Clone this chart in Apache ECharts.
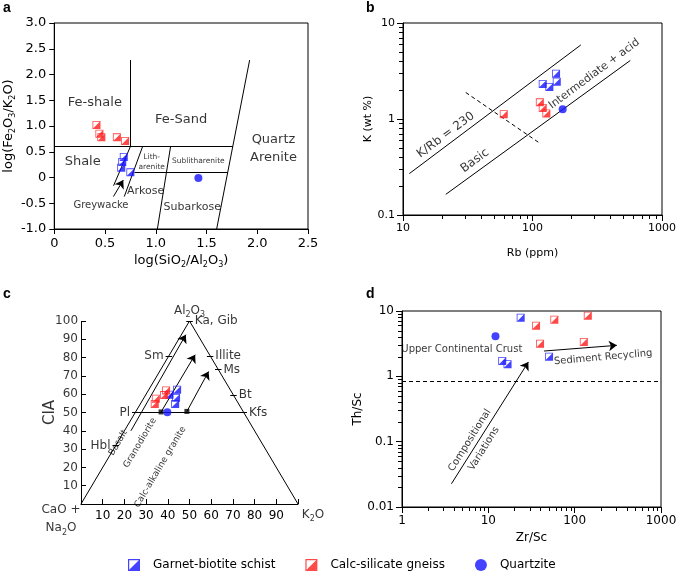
<!DOCTYPE html>
<html><head><meta charset="utf-8">
<script src="https://cdn.jsdelivr.net/npm/echarts@6/dist/echarts.min.js"></script>
<style>html,body{margin:0;padding:0;background:#fff}#c{width:685px;height:571px}</style>
</head><body><div id="c"></div>
<script>
// ================= DATA =================
const groups = ['Garnet-biotite schist', 'Calc-silicate gneiss', 'Quartzite'];

// Panel a : log(Fe2O3/K2O) vs log(SiO2/Al2O3)
const aXTicks = [0, 0.5, 1, 1.5, 2, 2.5];
const aYTicks = [-1, -0.5, 0, 0.5, 1, 1.5, 2, 2.5, 3];
const aGarnet = [[0.685, 0.40], [0.67, 0.30], [0.66, 0.19], [0.75, 0.10]];
const aCalc = [[0.416, 1.02], [0.445, 0.85], [0.464, 0.78], [0.617, 0.78], [0.698, 0.71]];
const aQuartzite = [[1.42, -0.01]];
const aBoundaries = [
  [[0.75, 0.6], [0.75, 2.28]],
  [[0, 0.6], [1.76, 0.6]],
  [[1.6, -1], [1.925, 2.28]],
  [[0.79, 0.1], [1.71, 0.1]],
  [[1.016, -1], [1.146, 0.6]],
  [[0.69, -0.37], [0.87, 0.6]],
  [[0.584, -0.16], [0.75, 0.6]]
];
const aArrow = [[0.583, -0.37], [0.68, -0.05]];

// Panel b : K (wt%) vs Rb (ppm)
const bXTicks = [10, 100, 1000];
const bYTicks = [0.1, 1, 10];
const bGarnet = [[152, 2.96], [154, 2.44], [120, 2.32], [135, 2.16]];
const bCalc = [[60, 1.12], [114, 1.49], [120, 1.30], [128, 1.14]];
const bQuartzite = [[171, 1.26]];
const bKRb230 = [[11.2, 0.27], [236, 5.9]];
const bLower = [[21.4, 0.164], [569, 4.07]];
const bDivider = [[30.5, 1.89], [116, 0.55]];

// Panel c : A-CN-K ternary (x = K + A/2, y = CIA)
const cTicks = [0, 10, 20, 30, 40, 50, 60, 70, 80, 90, 100];
const cGarnet = [[44.3, 62.4], [40.8, 59.7], [43.8, 58.0], [43.4, 54.7]];
const cCalc = [[39.2, 62.0], [38.3, 59.5], [34.5, 57.5], [34.0, 54.7]];
const cQuartzite = [[39.8, 50.2]];
const cRocks = [[36.9, 50.3], [48.8, 50.6]];
const cTriangle = [[0, 0], [50, 100], [100, 0]];
const cCIA50 = [[25, 50], [75, 50]];
const cTrends = [
  [[23, 40], [48.3, 92.5]],
  [[36.9, 50.3], [52.6, 81.6]],
  [[48.8, 50.6], [58.8, 72.4]]
];
const cMinerals = [
  ['Ka, Gib', 'r', 100], ['Sm', 'l', 81], ['Illite', 'r', 81], ['Ms', 'r', 73.5],
  ['Bt', 'r', 59.5], ['Kfs', 'r', 50], ['Pl', 'l', 50], ['Hbl', 'l', 32]
];

// Panel d : Th/Sc vs Zr/Sc
const dXTicks = [1, 10, 100, 1000];
const dYTicks = [0.01, 0.1, 1, 10];
const dGarnet = [[23.7, 7.9], [14.5, 1.72], [16.7, 1.53], [50.5, 2.0]];
const dCalc = [[35.7, 5.97], [58.2, 7.36], [142, 8.49], [39.7, 3.16], [127.7, 3.36]];
const dQuartzite = [[12.1, 4.09]];
const dThreshold = [[1, 0.85], [1000, 0.85]];
const dComposition = [[3.74, 0.0227], [29.1, 1.66]];
const dRecycling = [[44.2, 2.44], [308, 2.98]];

// ================= BUILD =================
const F = 'DejaVu Sans';
const BLUE = '#1414ff', RED = '#ff1a1a';
const SQ = 'path://M0 0L10 0L10 10L0 10Z M1 1L1 9L9 9L9 1Z M9 1L9 9L1 9Z';
const RICH = { s: { fontSize: 8, verticalAlign: 'bottom', fontFamily: F, color: '#000' } };

function minorVals(ticks) {
  const out = [];
  for (let i = 0; i < ticks.length - 1; i++) for (let k = 2; k <= 9; k++) out.push(+(ticks[i] * k).toPrecision(6));
  return out;
}
function fmtLog(v) { return String(+(+v).toPrecision(6)); }

const axisBase = {
  axisLine: { show: true, onZero: false, lineStyle: { color: '#000', width: 1 } },
  axisTick: { show: true, length: 5, lineStyle: { color: '#000', width: 1 } },
  splitLine: { show: false },
  nameTextStyle: { color: '#000', fontFamily: F, rich: RICH }
};
function ax(o) { return Object.assign({}, axisBase, o, { axisLabel: Object.assign({ color: '#000', fontFamily: F }, o.axisLabel || {}) }); }

function pts(xi, yi, g, c, q) {
  return [
    { type: 'scatter', name: groups[0], xAxisIndex: xi, yAxisIndex: yi, data: g, symbol: SQ, symbolSize: 8, itemStyle: { color: BLUE }, z: 6 },
    { type: 'scatter', name: groups[1], xAxisIndex: xi, yAxisIndex: yi, data: c, symbol: SQ, symbolSize: 8, itemStyle: { color: RED }, z: 6 },
    { type: 'scatter', name: groups[2], xAxisIndex: xi, yAxisIndex: yi, data: q, symbol: 'circle', symbolSize: 8, itemStyle: { color: BLUE }, z: 6 }
  ];
}
function segs(xi, yi, list, extra) {
  return Object.assign({
    type: 'lines', coordinateSystem: 'cartesian2d', xAxisIndex: xi, yAxisIndex: yi, silent: true,
    symbol: 'none', lineStyle: { color: '#000', width: 1, opacity: 1, curveness: 0 },
    data: list.map(c => ({ coords: c })), z: 3
  }, extra || {});
}
function arrows(xi, yi, list, extra) {
  return segs(xi, yi, list, Object.assign({ symbol: ['none', 'arrow'], symbolSize: 8 }, extra || {}));
}
function texts(xi, yi, items) {
  return {
    type: 'scatter', xAxisIndex: xi, yAxisIndex: yi, silent: true, symbolSize: 1, z: 7, clip: false,
    itemStyle: { color: 'rgba(0,0,0,0)' },
    label: { show: true, color: '#000', fontFamily: F, rich: RICH },
    data: items.map(t => ({
      value: [t.x, t.y],
      label: {
        show: true, formatter: t.t, rotate: t.r || 0, position: t.p || 'inside', distance: t.d || 0,
        offset: t.o || [0, 0], fontSize: t.s || 12, lineHeight: t.lh || Math.round((t.s || 12) * 1.35),
        align: t.a || 'center', verticalAlign: 'middle',
        color: '#000', fontFamily: F, rich: RICH
      }
    }))
  };
}

// annotations (data coordinates)
const aText = [
  { t: 'Fe-shale', x: 0.40, y: 1.45, s: 13 },
  { t: 'Fe-Sand', x: 1.25, y: 1.12, s: 13 },
  { t: 'Quartz\nArenite', x: 2.16, y: 0.57, s: 13, lh: 18 },
  { t: 'Shale', x: 0.28, y: 0.30, s: 13 },
  { t: 'Lith-\narenite', x: 0.96, y: 0.30, s: 7.5, lh: 10 },
  { t: 'Sublitharenite', x: 1.42, y: 0.32, s: 7.5 },
  { t: 'Arkose', x: 0.90, y: -0.26, s: 11 },
  { t: 'Subarkose', x: 1.36, y: -0.57, s: 11 },
  { t: 'Greywacke', x: 0.46, y: -0.55, s: 10 }
];
const bText = [
  { t: 'K/Rb = 230', x: 21.4, y: 0.68, s: 12, r: 36.6 },
  { t: 'Basic', x: 35.9, y: 0.368, s: 12, r: 36.6 },
  { t: 'Intermediate + acid', x: 300, y: 2.95, s: 11, r: 36.6 }
];
const DIGIT_W = 7.63; // DejaVu Sans digit advance at 12px
const cText = [
  { t: 'Al{s|2}O{s|3}', x: 50, y: 100, o: [0, -10], s: 12 },
  { t: 'CaO +\nNa{s|2}O', x: 0, y: 0, o: [-20, 15], s: 12, lh: 18 },
  { t: 'K{s|2}O', x: 100, y: 0, o: [15, 11], s: 12 },
  { t: 'CIA', x: 0, y: 50, o: [0, -31], s: 15, r: 90 },
  { t: 'Basalt', x: 17.1, y: 33.4, s: 9, r: 59.3 },
  { t: 'Granodiorite', x: 27.2, y: 33.4, s: 9, r: 59.3 },
  { t: 'Calc-alkaline granite', x: 36.5, y: 20.2, s: 9, r: 59.3 }
].concat(cMinerals.map(m => {
  const ex = m[1] === 'r' ? 100 - m[2] / 2 + 1.5 : m[2] / 2 - 1.5;
  return { t: m[0], x: ex, y: m[2], a: m[1] === 'r' ? 'left' : 'right', o: [m[1] === 'r' ? 2 : -2, 0], s: 12 };
})).concat(cTicks.filter(v => v > 0).map(v => {
  const w = String(v).length * DIGIT_W;
  return { t: String(v), x: 0, y: v, a: 'left', o: [-(3 + w), 0], s: 12 };
}));
const cMineralTicks = cMinerals.map(m => {
  const ex = m[1] === 'r' ? 100 - m[2] / 2 : m[2] / 2;
  return [[ex - 1.5, m[2]], [ex + 1.5, m[2]]];
});
// CIA axis line and inward ticks
const cCIAAxis = [[[0, 0], [0, 100]]].concat(cTicks.filter(v => v > 0).map(v => [[0, v], [2.3, v]]));
const dText = [
  { t: 'Upper Continental Crust', x: 4.93, y: 2.59, s: 10 },
  { t: 'Sediment Recycling', x: 214, y: 1.95, s: 10, r: 5 },
  { t: 'Compositional', x: 6.1, y: 0.105, s: 10, r: 58 },
  { t: 'Variations', x: 8.88, y: 0.078, s: 10, r: 58 }
];

const letters = [
  { type: 'text', left: 3, top: 1, style: { text: 'a', font: 'bold 14px "Liberation Sans"', fill: '#000' } },
  { type: 'text', left: 366, top: 1, style: { text: 'b', font: 'bold 14px "Liberation Sans"', fill: '#000' } },
  { type: 'text', left: 3, top: 287, style: { text: 'c', font: 'bold 14px "Liberation Sans"', fill: '#000' } },
  { type: 'text', left: 366, top: 287, style: { text: 'd', font: 'bold 14px "Liberation Sans"', fill: '#000' } }
];

const option = {
  animation: false,
  backgroundColor: '#fff',
  textStyle: { fontFamily: F },
  grid: [
    { left: 52, top: 23, width: 256, height: 206, show: true, borderColor: '#000', borderWidth: 1 },
    { left: 403, top: 23, width: 259, height: 192, show: true, borderColor: '#000', borderWidth: 1 },
    { left: 81, top: 321, width: 217, height: 183, show: false },
    { left: 402, top: 311, width: 259, height: 196, show: true, borderColor: '#000', borderWidth: 1 }
  ],
  xAxis: [
    ax({ gridIndex: 0, type: 'value', min: aXTicks[0], max: aXTicks[aXTicks.length - 1], interval: 0.5,
      axisLabel: { fontSize: 13, formatter: v => v === 0 ? '0' : v.toFixed(1) },
      name: 'log(SiO{s|2}/Al{s|2}O{s|3})', nameLocation: 'middle', nameGap: 24,
      nameTextStyle: { color: '#000', fontFamily: F, fontSize: 13, lineHeight: 16, rich: RICH } }),
    ax({ gridIndex: 1, type: 'log', logBase: 10, min: bXTicks[0], max: bXTicks[bXTicks.length - 1],
      axisTick: { show: true, length: 6, lineStyle: { color: '#000' } },
      axisLabel: { fontSize: 11, formatter: fmtLog },
      name: 'Rb (ppm)', nameLocation: 'middle', nameGap: 33,
      nameTextStyle: { color: '#000', fontFamily: F, fontSize: 11 } }),
    ax({ gridIndex: 2, type: 'value', min: cTicks[0], max: cTicks[cTicks.length - 1], interval: 10,
      axisTick: { show: true, inside: true, length: 5, lineStyle: { color: '#000' } },
      axisLabel: { fontSize: 12, margin: 6, formatter: v => (v > 0 && v < 100) ? String(v) : '' } }),
    ax({ gridIndex: 3, type: 'log', logBase: 10, min: dXTicks[0], max: dXTicks[dXTicks.length - 1],
      axisTick: { show: true, length: 6, lineStyle: { color: '#000' } },
      axisLabel: { fontSize: 12, formatter: fmtLog },
      name: 'Zr/Sc', nameLocation: 'middle', nameGap: 25,
      nameTextStyle: { color: '#000', fontFamily: F, fontSize: 12 } })
  ],
  yAxis: [
    ax({ gridIndex: 0, type: 'value', min: aYTicks[0], max: aYTicks[aYTicks.length - 1], interval: 0.5,
      axisLabel: { fontSize: 13, formatter: v => v === 0 ? '0' : v.toFixed(1) },
      name: 'log(Fe{s|2}O{s|3}/K{s|2}O)', nameLocation: 'middle', nameGap: 36, nameRotate: 90,
      nameTextStyle: { color: '#000', fontFamily: F, fontSize: 13, lineHeight: 16, rich: RICH } }),
    ax({ gridIndex: 1, type: 'log', logBase: 10, min: bYTicks[0], max: bYTicks[bYTicks.length - 1],
      axisTick: { show: true, length: 6, lineStyle: { color: '#000' } },
      axisLabel: { fontSize: 11, formatter: fmtLog },
      name: 'K (wt %)', nameLocation: 'middle', nameGap: 28, nameRotate: 90,
      nameTextStyle: { color: '#000', fontFamily: F, fontSize: 11 } }),
    { gridIndex: 2, type: 'value', min: cTicks[0], max: cTicks[cTicks.length - 1], interval: 10, show: false },
    ax({ gridIndex: 3, type: 'log', logBase: 10, min: dYTicks[0], max: dYTicks[dYTicks.length - 1],
      axisTick: { show: true, length: 6, lineStyle: { color: '#000' } },
      axisLabel: { fontSize: 12, formatter: fmtLog },
      name: 'Th/Sc', nameLocation: 'middle', nameGap: 26, nameRotate: 90,
      nameTextStyle: { color: '#000', fontFamily: F, fontSize: 12 } })
  ],
  legend: {
    data: groups, left: 123, top: 554, itemWidth: 12, itemHeight: 12, itemGap: 30, selectedMode: false,
    textStyle: { fontFamily: F, fontSize: 12, color: '#000', padding: [0, 0, 0, 8] }
  },
  graphic: letters,
  series: [].concat(
    // panel a
    [segs(0, 0, aBoundaries), arrows(0, 0, [aArrow]), texts(0, 0, aText)],
    pts(0, 0, aGarnet, aCalc, aQuartzite),
    // panel b
    [segs(1, 1, [bKRb230, bLower]), segs(1, 1, [bDivider], { lineStyle: { color: '#000', width: 1, opacity: 1, type: [4, 3] } }),
     texts(1, 1, bText)],
    pts(1, 1, bGarnet, bCalc, bQuartzite),
    // panel c
    [segs(2, 2, [cTriangle], { polyline: true }), segs(2, 2, [cCIA50].concat(cMineralTicks)),
     segs(2, 2, cCIAAxis, { clip: false }),
     arrows(2, 2, cTrends), texts(2, 2, cText),
     { type: 'scatter', xAxisIndex: 2, yAxisIndex: 2, silent: true, data: cRocks, symbol: 'rect', symbolSize: 5, itemStyle: { color: '#000' }, z: 5 }],
    pts(2, 2, cGarnet, cCalc, cQuartzite),
    // panel d
    [segs(3, 3, [dThreshold], { lineStyle: { color: '#000', width: 1, opacity: 1, type: [4, 3] } }),
     arrows(3, 3, [dComposition, dRecycling]), texts(3, 3, dText)],
    pts(3, 3, dGarnet, dCalc, dQuartzite)
  )
};

const chart = echarts.init(document.getElementById('c'), null, { renderer: 'canvas' });
chart.setOption(option);

// minor ticks of the log axes, positioned through the chart's own scales
function minorTickGraphics(gridIdx, xTicks, yTicks, len) {
  const out = [];
  const finder = { xAxisIndex: gridIdx, yAxisIndex: gridIdx };
  minorVals(xTicks).forEach(v => {
    const p = chart.convertToPixel(finder, [v, yTicks[0]]);
    const x = Math.round(p[0]) + 0.5, y = Math.round(p[1]);
    out.push({ type: 'line', silent: true, shape: { x1: x, y1: y, x2: x, y2: y + len }, style: { stroke: '#000', lineWidth: 1 } });
  });
  minorVals(yTicks).forEach(v => {
    const p = chart.convertToPixel(finder, [xTicks[0], v]);
    const x = Math.round(p[0]), y = Math.round(p[1]) + 0.5;
    out.push({ type: 'line', silent: true, shape: { x1: x, y1: y, x2: x - len, y2: y }, style: { stroke: '#000', lineWidth: 1 } });
  });
  return out;
}
chart.setOption({ graphic: letters.concat(
  minorTickGraphics(1, bXTicks, bYTicks, 4),
  minorTickGraphics(3, dXTicks, dYTicks, 4)) });
</script>
</body></html>
